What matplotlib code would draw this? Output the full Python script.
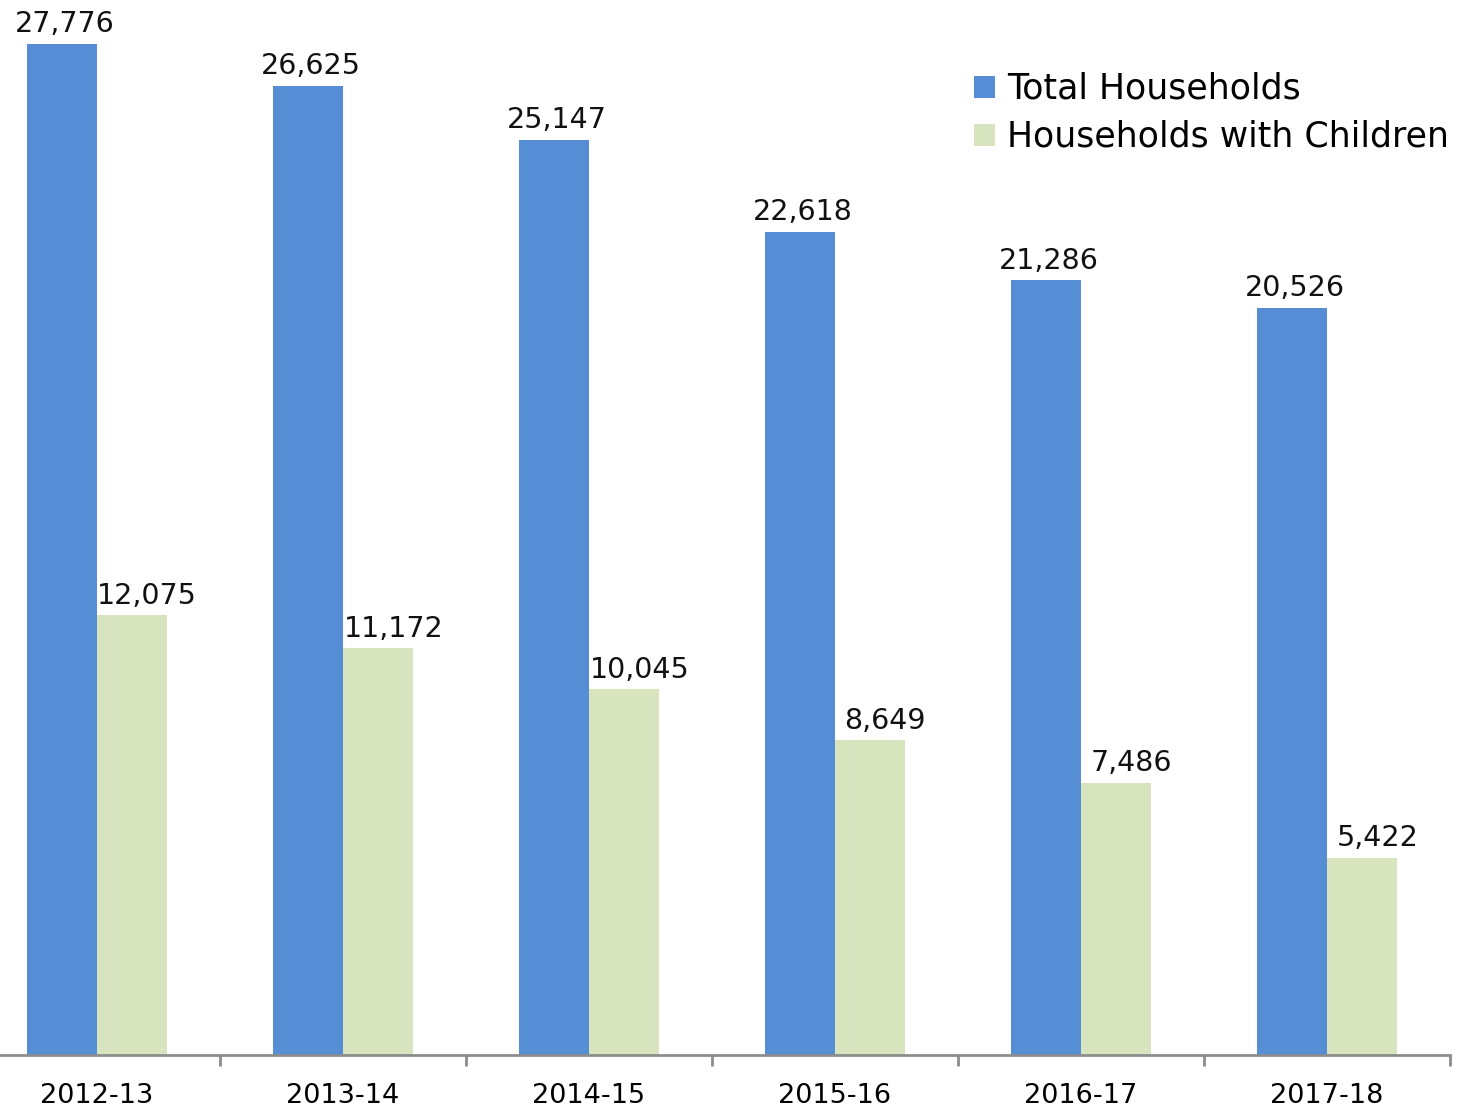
import numpy as np
import matplotlib
matplotlib.use("Agg")
import matplotlib.pyplot as plt

years = ["2012-13", "2013-14", "2014-15", "2015-16", "2016-17", "2017-18"]
total = [27776, 26625, 25147, 22618, 21286, 20526]
children = [12075, 11172, 10045, 8649, 7486, 5422]

blue = "#558ED5"
green = "#D7E4BD"

plt.rcParams["font.family"] = ["DejaVu Sans"]

fig = plt.figure(figsize=(14.63, 11.13), dpi=100)
ax = fig.add_axes([0, 58 / 1113, 1450 / 1463, 1055 / 1113])

x = np.arange(len(years))
w = 0.285
b1 = ax.bar(x - w / 2, total, w, color=blue, label="Total Households")
b2 = ax.bar(x + w / 2, children, w, color=green, label="Households with Children")

# green labels sit a bit right of their bars in the original
for bars, dx in ((b1, 2), (b2, 11)):
    for r in bars:
        v = r.get_height()
        ax.annotate(f"{v:,}", (r.get_x() + r.get_width() / 2, v),
                    xytext=(dx, 4), textcoords="offset points",
                    ha="center", va="bottom", fontsize=20.5, color="#111111")

ax.set_xlim(-0.394, 5.5)
ax.set_ylim(0, 28985)
ax.set_yticks([])
for s in ("top", "right", "left"):
    ax.spines[s].set_visible(False)
ax.spines["bottom"].set_color("#8c8c8c")
ax.spines["bottom"].set_linewidth(2)

ax.set_xticks(x)
ax.set_xticklabels(years, fontsize=19.5)
ax.tick_params(axis="x", which="major", length=0, pad=20)
ax.set_xticks(np.arange(len(years)) + 0.5, minor=True)
ax.tick_params(axis="x", which="minor", length=8, width=2, color="#8c8c8c")

ax.legend(loc="upper left", bbox_to_anchor=(960 / 1450, 0.945), frameon=False,
          fontsize=25, handlelength=0.6, handleheight=0.6, handletextpad=0.35,
          labelspacing=0.4, borderaxespad=0)

fig.savefig("out.png", dpi=100)
